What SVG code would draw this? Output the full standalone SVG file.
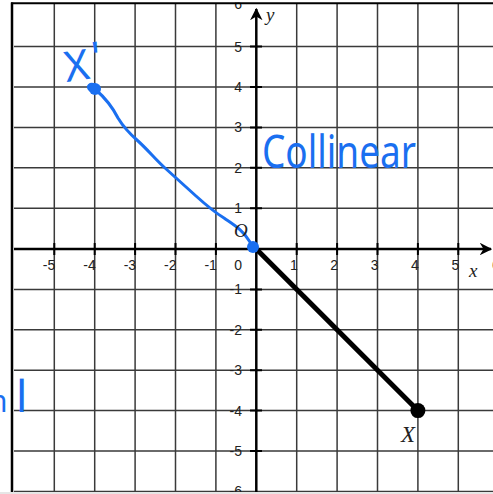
<svg xmlns="http://www.w3.org/2000/svg" width="493" height="494" viewBox="0 0 493 494">
<style>
.grid{stroke:#3a3a3a;stroke-width:1.5;fill:none}
.axis{stroke:#000;stroke-width:2.5;fill:none}
.tick{stroke:#000;stroke-width:2;fill:none}
.num{font-family:"Liberation Sans",Arial,sans-serif;font-size:14px;fill:#222}
.xn{text-anchor:end}
.var{font-family:"Liberation Serif","Times New Roman",serif;font-style:italic;fill:#222}
.hand{font-family:"Noto Sans","Open Sans",sans-serif;fill:#1a6ff0}
.blue{stroke:#1a6ff0;fill:none;stroke-width:3;stroke-linecap:round;stroke-linejoin:round}
</style>
<defs>
<marker id="ah" viewBox="0 0 10 10" refX="9" refY="5" markerWidth="5" markerHeight="5" orient="auto" markerUnits="strokeWidth">
<path d="M0,0 L10,5 L0,10 L3,5 Z" fill="#000"/>
</marker>
</defs>
<rect width="493" height="494" fill="#fff"/>
<g id="grid">
<path class="grid" d="M54.3,4V492 M94.7,4V492 M135.1,4V492 M175.5,4V492 M215.9,4V492 M296.7,4V492 M337.1,4V492 M377.5,4V492 M417.9,4V492 M458.3,4V492"/>
<path class="grid" d="M14,46.6H493 M14,87H493 M14,127.4H493 M14,167.8H493 M14,208.2H493 M14,289.4H493 M14,329.8H493 M14,370.2H493 M14,410.6H493 M14,451H493 M14,491.4H493"/>
</g>
<g id="labels-x">
<text class="num xn" x="55.3" y="270">-5</text>
<text class="num xn" x="95.7" y="270">-4</text>
<text class="num xn" x="136.1" y="270">-3</text>
<text class="num xn" x="176.5" y="270">-2</text>
<text class="num xn" x="216.9" y="270">-1</text>
<text class="num xn" x="242" y="270">0</text>
<text class="num xn" x="297.7" y="270">1</text>
<text class="num xn" x="338.1" y="270">2</text>
<text class="num xn" x="378.5" y="270">3</text>
<text class="num xn" x="418.9" y="270">4</text>
<text class="num xn" x="459.3" y="270">5</text>
<text class="num xn" x="499.7" y="270">6</text>
</g>
<g id="labels-y">
<text class="num xn" x="242" y="9">6</text>
<text class="num xn" x="242" y="51.6">5</text>
<text class="num xn" x="242" y="92">4</text>
<text class="num xn" x="242" y="132.4">3</text>
<text class="num xn" x="242" y="172.8">2</text>
<text class="num xn" x="242" y="213.2">1</text>
<text class="num xn" x="242" y="294.4">-1</text>
<text class="num xn" x="242" y="334.8">-2</text>
<text class="num xn" x="242" y="375.2">-3</text>
<text class="num xn" x="242" y="415.6">-4</text>
<text class="num xn" x="242" y="456">-5</text>
<text class="num xn" x="242" y="496.4">-6</text>
</g>
<g id="axes">
<line class="axis" x1="14" y1="249" x2="491" y2="249" marker-end="url(#ah)"/>
<line class="axis" x1="256.3" y1="492" x2="256.3" y2="9" marker-end="url(#ah)"/>
<path class="tick" d="M54.3,243V255 M94.7,243V255 M135.1,243V255 M175.5,243V255 M215.9,243V255 M296.7,243V255 M337.1,243V255 M377.5,243V255 M417.9,243V255 M458.3,243V255"/>
<path class="tick" d="M250,46.6H262 M250,87H262 M250,127.4H262 M250,167.8H262 M250,208.2H262 M250,289.4H262 M250,329.8H262 M250,370.2H262 M250,410.6H262 M250,451H262"/>
<text class="var" x="266" y="21" font-size="19">y</text>
<text class="var" x="469" y="277" font-size="19">x</text>
</g>
<g id="frame">
<rect x="0" y="0" width="493" height="2.5" fill="#fff"/>
<line x1="11" y1="3.3" x2="493" y2="3.3" stroke="#000" stroke-width="2"/>
<line x1="12" y1="2.5" x2="12" y2="492" stroke="#000" stroke-width="2.5"/>
<rect x="0" y="492" width="493" height="2" fill="#e6e6e6"/>
</g>
<g id="connectors">
<line id="seg-OX" x1="256.3" y1="249" x2="417.9" y2="410.6" stroke="#000" stroke-width="5"/>
<path id="seg-OXp" class="blue" d="M95,89 C103,96 112,106 118,118 C124,128 130,134 138,141 C148,150 156,160 165,168 C176,178 186,187 196,196 C206,205 214,212 224,218 C234,225 243,230 250,242"/>
</g>
<g id="point-O">
<text class="var" x="234" y="237" font-size="19">O</text>
<circle cx="253" cy="247" r="6" fill="#1a6ff0"/>
</g>
<g id="point-X">
<circle cx="417.9" cy="410.6" r="7.5" fill="#000"/>
<text class="var" x="401" y="442" font-size="23">X</text>
</g>
<g id="point-Xp">
<circle cx="95" cy="89" r="6" fill="#1a6ff0"/>
<path class="blue" d="M90,90 C86,86 90,83 95,85"/>
<text class="hand" x="64" y="80" font-size="42" transform="rotate(-8 80 63)">X<tspan dx="4" dy="-6">'</tspan></text>
</g>
<g id="notes">
<text class="hand" x="262" y="168" font-size="46" textLength="154" lengthAdjust="spacingAndGlyphs">Collinear</text>
<text class="hand" x="-11" y="412" font-size="30">n</text>
<text class="hand" x="16" y="412" font-size="44">l</text>
</g>
</svg>
